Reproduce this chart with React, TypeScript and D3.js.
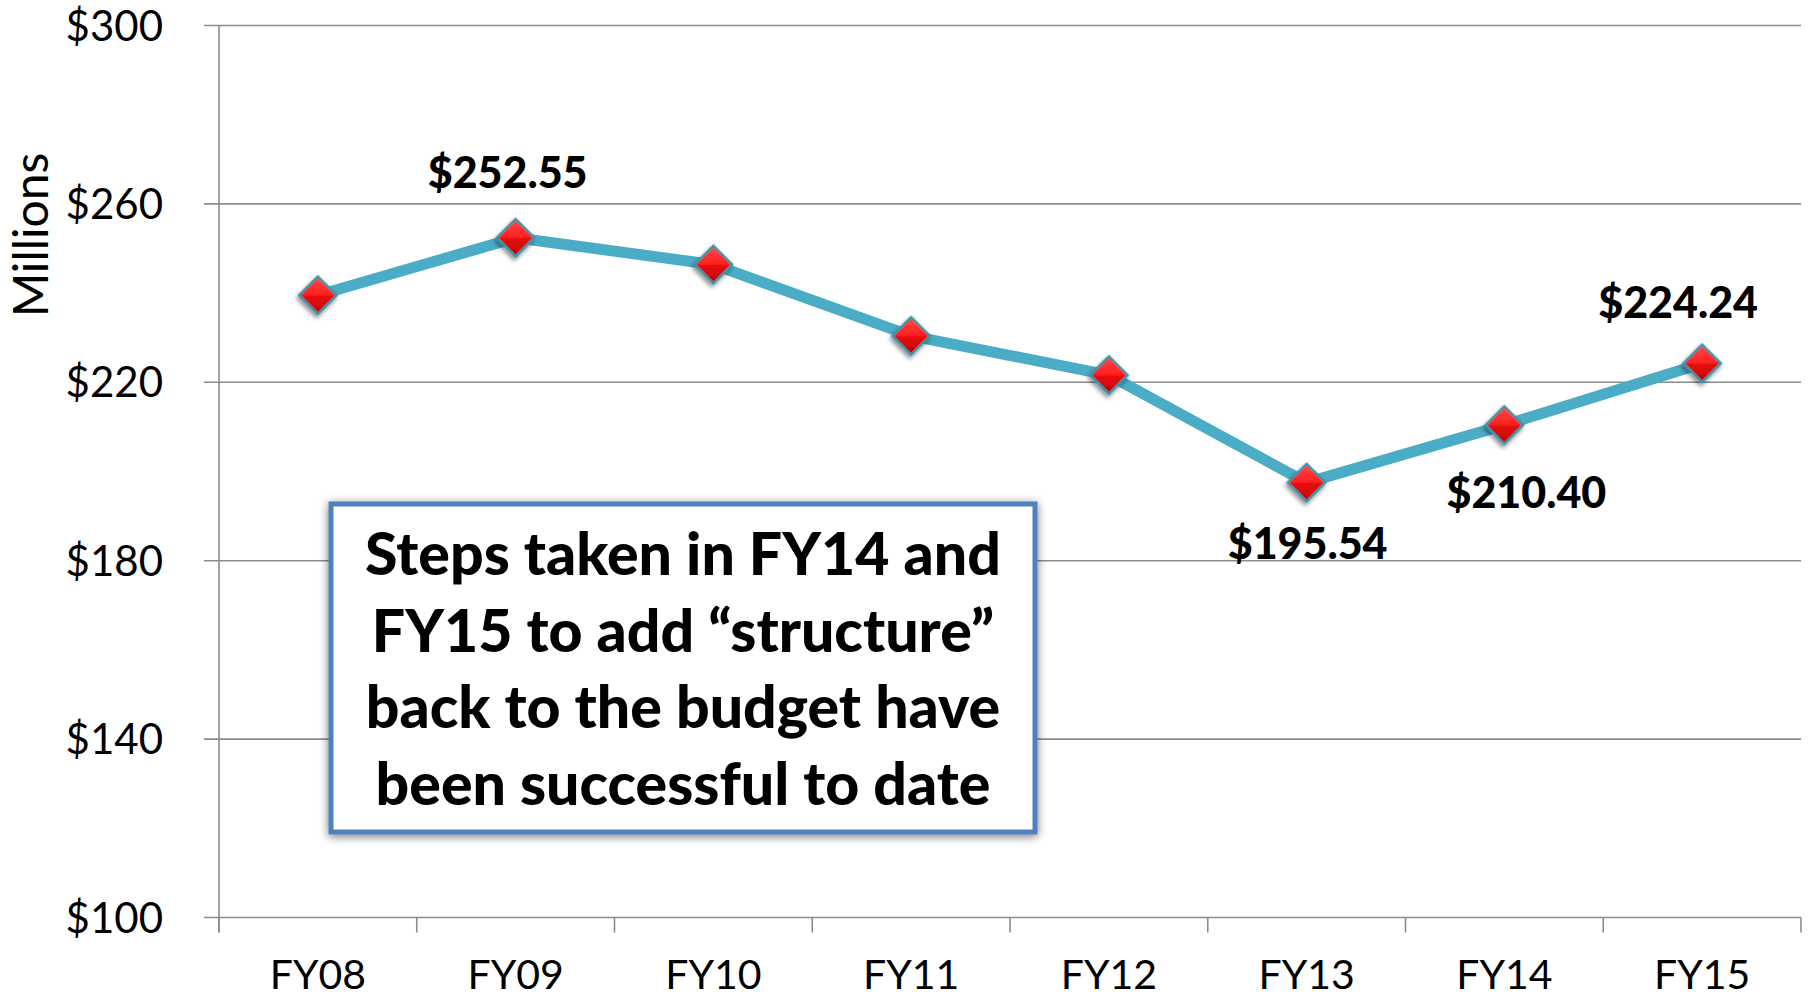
import React from "react";
import * as d3 from "d3";

const categories = ["FY08", "FY09", "FY10", "FY11", "FY12", "FY13", "FY14", "FY15"];
const values = [239.5, 252.4, 246.4, 230.4, 221.6, 197.5, 210.4, 224.24];
const yTicks = [100, 140, 180, 220, 260, 300];
const labeled = [
  { i: 1, text: "$252.55", dx: -8, dy: -50 },
  { i: 5, text: "$195.54", dx: 1, dy: 76 },
  { i: 6, text: "$210.40", dx: 22, dy: 83 },
  { i: 7, text: "$224.24", dx: -24, dy: -45 },
];
const boxLines = [
  "Steps taken in FY14 and",
  "FY15 to add \u201cstructure\u201d",
  "back to the budget have",
  "been successful to date",
];

const W = 1810, H = 998;
const M = { left: 219, right: 1801, top: 25.5, bottom: 917.5 };
const FONT = "Lato, 'Open Sans', sans-serif";

export default function App() {
  const x = d3.scaleBand().domain(categories).range([M.left, M.right]);
  const y = d3.scaleLinear().domain([100, 300]).range([M.bottom, M.top]);
  const line = d3.line<number>().x((_, i) => x(categories[i])! + x.bandwidth() / 2).y((v) => y(v));
  const diamond = d3.symbol(d3.symbolSquare, 700)();
  const tickXs = [...categories.map((c) => x(c)!), M.right];

  return (
    <svg width={W} height={H} style={{ position: "absolute", left: 0, top: 0, background: "#fff" }} fontFamily={FONT}>
      <defs>
        <linearGradient id="red" x1="0" y1="0" x2="1" y2="1">
          <stop offset="0" stopColor="#ff4a4a" />
          <stop offset="0.5" stopColor="#ff1e1e" />
          <stop offset="0.5" stopColor="#e81010" />
          <stop offset="1" stopColor="#c00000" />
        </linearGradient>
        <filter id="sh" x="-50%" y="-50%" width="200%" height="200%">
          <feDropShadow dx="1" dy="3" stdDeviation="2" floodColor="#000" floodOpacity="0.45" />
        </filter>
        <filter id="boxsh" x="-10%" y="-10%" width="120%" height="120%">
          <feGaussianBlur in="SourceAlpha" stdDeviation="5" />
          <feOffset dx="0" dy="2" result="b" />
          <feComponentTransfer><feFuncA type="linear" slope="0.55" /></feComponentTransfer>
          <feMerge><feMergeNode /><feMergeNode in="SourceGraphic" /></feMerge>
        </filter>
      </defs>
      {yTicks.map((t) => (
        <g key={t}>
          <line x1={M.left - 15} x2={M.right} y1={y(t)} y2={y(t)} stroke="#8c8c8c" strokeWidth={1.6} />
          <text x={163} y={y(t)} dy="0.36em" textAnchor="end" fontSize={42} fill="#000">${t}</text>
        </g>
      ))}
      <line x1={M.left} x2={M.left} y1={M.top} y2={M.bottom + 15} stroke="#8c8c8c" strokeWidth={1.6} />
      {tickXs.map((tx, i) => (
        <line key={i} x1={tx} x2={tx} y1={M.bottom} y2={M.bottom + 15} stroke="#8c8c8c" strokeWidth={1.6} />
      ))}
      {categories.map((c) => (
        <text key={c} x={x(c)! + x.bandwidth() / 2} y={989} textAnchor="middle" fontSize={41} fill="#000">{c}</text>
      ))}
      <text transform={`translate(48,235) rotate(-90)`} textAnchor="middle" fontSize={48} fill="#000">Millions</text>
      <path d={line(values)!} fill="none" stroke="#4bacc6" strokeWidth={11} strokeLinejoin="round" />
      {values.map((v, i) => (
        <path key={i} d={diamond} transform={`translate(${x(categories[i])! + x.bandwidth() / 2},${y(v)}) rotate(45)`}
          fill="url(#red)" stroke="#3f8fa5" strokeWidth={2.5} filter="url(#sh)" />
      ))}
      {labeled.map((l) => (
        <text key={l.i} x={x(categories[l.i])! + x.bandwidth() / 2 + l.dx} y={y(values[l.i]) + l.dy}
          textAnchor="middle" fontSize={43} fontWeight={900} fill="#000">{l.text}</text>
      ))}
      <g filter="url(#boxsh)">
        <rect x={331} y={504} width={704} height={328} fill="#fff" stroke="#4f81bd" strokeWidth={5} />
      </g>
      {boxLines.map((s, i) => (
        <text key={i} x={683} y={575 + i * 76.5} textAnchor="middle" fontSize={59} fontWeight={900} fill="#000">{s}</text>
      ))}
    </svg>
  );
}
